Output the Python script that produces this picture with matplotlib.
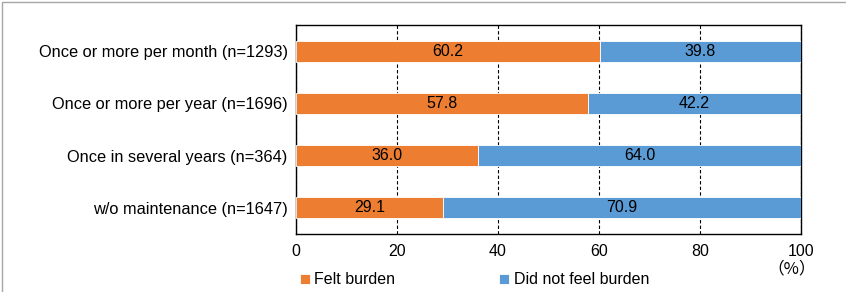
import numpy as np
import matplotlib
matplotlib.use('Agg')
import matplotlib.pyplot as plt
from matplotlib.patches import Rectangle

# Data
categories = [
    'Once or more per month (n=1293)',
    'Once or more per year (n=1696)',
    'Once in several years (n=364)',
    'w/o maintenance (n=1647)',
]
felt_burden = [60.2, 57.8, 36.0, 29.1]
no_burden = [39.8, 42.2, 64.0, 70.9]
series_names = ['Felt burden', 'Did not feel burden']
x_ticks = [0, 20, 40, 60, 80, 100]

plt.rcParams['font.family'] = ['Liberation Sans', 'DejaVu Sans']

ORANGE = '#ED7D31'
BLUE = '#5B9BD5'
FS = 11.5

fig = plt.figure(figsize=(8.46, 2.92), dpi=100)
ax = fig.add_axes([296 / 846, 1 - 234 / 292, 505 / 846, 209 / 292])

y = np.arange(len(categories))
b1 = ax.barh(y, felt_burden, height=0.40, color=ORANGE, edgecolor='white',
             linewidth=0.6, zorder=3, label=series_names[0])
b2 = ax.barh(y, no_burden, left=felt_burden, height=0.40, color=BLUE,
             edgecolor='white', linewidth=0.6, zorder=3, label=series_names[1])

# value labels centred in each segment
for bars, vals, lefts in [(b1, felt_burden, [0] * 4), (b2, no_burden, felt_burden)]:
    for yi, v, l in zip(y, vals, lefts):
        ax.text(l + v / 2, yi, f'{v:.1f}', ha='center', va='center',
                fontsize=FS, color='black', zorder=4)

ax.set_xlim(0, 100)
ax.set_ylim(len(categories) - 0.5, -0.5)
ax.set_xticks(x_ticks)
ax.set_yticks(y)
ax.set_yticklabels(categories, fontsize=11.8)
ax.tick_params(axis='x', labelsize=FS, length=0, pad=7)
ax.tick_params(axis='y', length=0, pad=6)
ax.xaxis.grid(True, linestyle=(0, (3, 2)), color='black', linewidth=0.8, zorder=0)
ax.set_axisbelow(True)
for s in ax.spines.values():
    s.set_color('black')
    s.set_linewidth(1.0)

# unit label under the 100 tick
fig.text(792 / 846, 1 - 269 / 292, '（%）', ha='center', va='center', fontsize=12,
         family=['Noto Sans CJK JP', 'DejaVu Sans'])

fig.legend(handles=[b1, b2], labels=series_names, loc='center left',
           bbox_to_anchor=(300 / 846, 1 - 280 / 292), ncol=2, frameon=False,
           fontsize=FS, handlelength=0.6, handleheight=0.6, handletextpad=0.3,
           columnspacing=6.5, borderpad=0, borderaxespad=0)

# light grey frame around the whole picture
fig.patches.append(Rectangle((2 / 846, -0.01), 1.0, 1 - 2 / 292 + 0.01,
                             transform=fig.transFigure, fill=False,
                             edgecolor='#A6A6A6', linewidth=1.0))

fig.savefig('out.png', dpi=100)
